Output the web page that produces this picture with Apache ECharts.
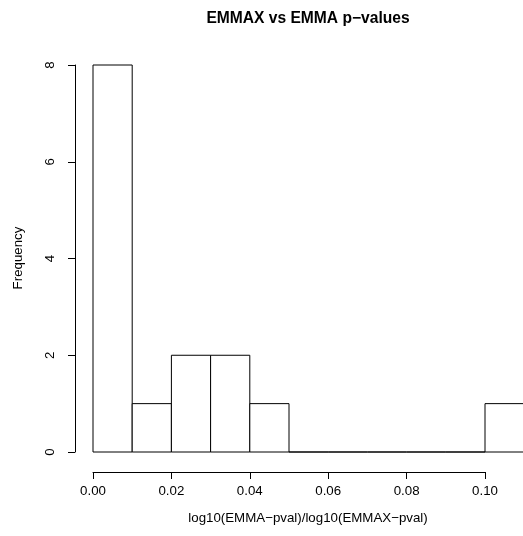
<!DOCTYPE html>
<html>
<head>
<meta charset="utf-8">
<script src="https://cdn.jsdelivr.net/npm/echarts@6/dist/echarts.min.js"></script>
<style>
  html, body { margin: 0; padding: 0; background: #fff; }
  #hist { width: 523px; height: 536px; }
</style>
</head>
<body>
<div id="hist"></div>
<script>
// bin edges and counts of the histogram
const binEdges = [0, 0.01, 0.02, 0.03, 0.04, 0.05, 0.06, 0.07, 0.08, 0.09, 0.10, 0.11];
const counts = [8, 1, 2, 2, 1, 0, 0, 0, 0, 0, 1];
const xTicks = [0, 0.02, 0.04, 0.06, 0.08, 0.10];
const yTicks = [0, 2, 4, 6, 8];

const font = "Liberation Sans, Arial, Helvetica, sans-serif";

const chart = echarts.init(document.getElementById("hist"));

// one row per bin: [left, right, count]
const bins = counts.map((c, i) => [binEdges[i], binEdges[i + 1], c]);

const option = {
  animation: false,
  backgroundColor: "#fff",
  grid: { left: 93, right: 38, top: 65, bottom: 84 },
  xAxis: {
    type: "value",
    min: xTicks[0],
    max: xTicks[xTicks.length - 1],
    interval: 0.02,
    offset: 20,
    splitLine: { show: false },
    axisLine: { onZero: false, lineStyle: { color: "#000", width: 1 } },
    axisTick: { length: 7, lineStyle: { color: "#000" } },
    axisLabel: {
      margin: 13,
      color: "#000",
      fontSize: 13.3,
      fontFamily: font,
      formatter: v => v.toFixed(2)
    }
  },
  yAxis: {
    type: "value",
    min: yTicks[0],
    max: yTicks[yTicks.length - 1],
    interval: 2,
    offset: 18,
    splitLine: { show: false },
    axisLine: { show: true, onZero: false, lineStyle: { color: "#000", width: 1 } },
    axisTick: { show: true, length: 7, lineStyle: { color: "#000" } },
    axisLabel: {
      rotate: 90,
      margin: 18,
      color: "#000",
      fontSize: 13.3,
      fontFamily: font
    }
  },
  series: [{
    type: "custom",
    clip: false,
    data: bins,
    renderItem: function (params, api) {
      const p0 = api.coord([api.value(0), 0]);
      const p1 = api.coord([api.value(1), api.value(2)]);
      return {
        type: "rect",
        shape: { x: p0[0], y: p1[1], width: p1[0] - p0[0], height: p0[1] - p1[1] },
        style: { fill: "#fff", stroke: "#000", lineWidth: 1 }
      };
    }
  }],
  graphic: [
    {
      type: "text", x: 308, y: 19,
      style: {
        text: "EMMAX vs EMMA p\u2212values", align: "center", verticalAlign: "middle",
        font: "bold 15.6px " + font, fill: "#000"
      }
    },
    {
      type: "text", x: 308, y: 518,
      style: {
        text: "log10(EMMA\u2212pval)/log10(EMMAX\u2212pval)", align: "center", verticalAlign: "middle",
        font: "13.3px " + font, fill: "#000"
      }
    },
    {
      type: "text", x: 18, y: 258, rotation: Math.PI / 2,
      style: {
        text: "Frequency", align: "center", verticalAlign: "middle",
        font: "13.3px " + font, fill: "#000"
      }
    }
  ]
};

chart.setOption(option);
</script>
</body>
</html>
